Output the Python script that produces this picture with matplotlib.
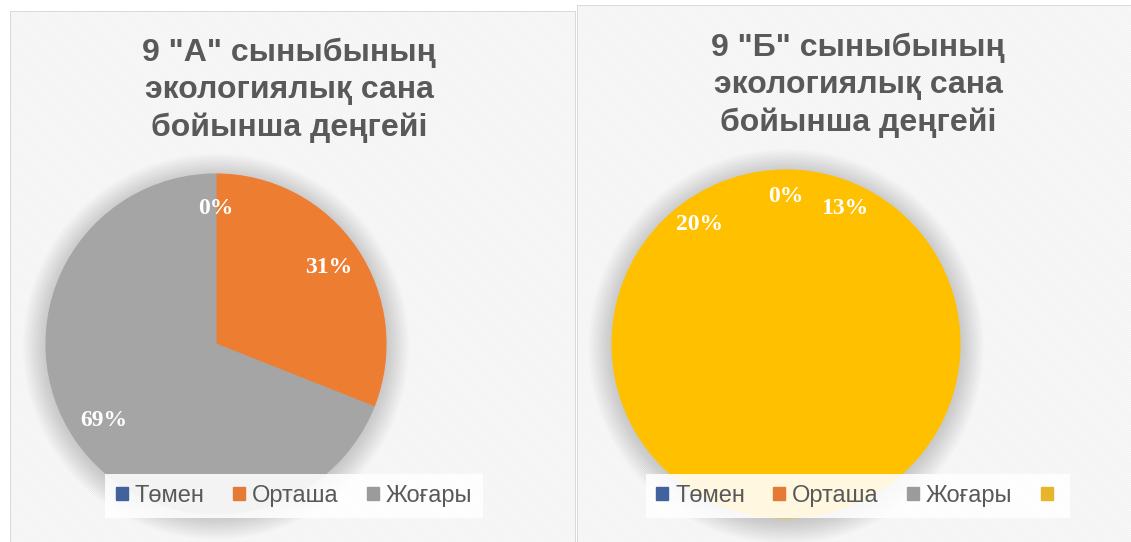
import matplotlib
matplotlib.use("Agg")
import matplotlib.pyplot as plt
from matplotlib.patches import Rectangle, Circle, Patch

# данные
categories = ["Төмен", "Орташа", "Жоғары"]
a_values = [0, 31, 69]
a_labels = ["0%", "31%", "69%"]
b_values = [0, 13, 67, 20]
b_labels = ["0%", "13%", "", "20%"]
titles = ['9 "А" сыныбының\nэкологиялық сана\nбойынша деңгейі',
          '9 "Б" сыныбының\nэкологиялық сана\nбойынша деңгейі']

colors = ["#4472C4", "#ED7D31", "#A5A5A5"]
legend_colors = ["#41629c", "#e47a35", "#9b9b9b", "#e6b52a"]
yellow = "#FFC000"
text_gray = "#595959"

W, H = 1131, 542
plt.rcParams['hatch.linewidth'] = 0.6
plt.rcParams['hatch.color'] = '#f0f0f0'

fig = plt.figure(figsize=(W / 100, H / 100), dpi=100)
fig.patch.set_facecolor("white")


def px_rect(x0, y0, x1, y1):
    # пиксели картинки -> доли фигуры
    return [x0 / W, 1 - y1 / H, (x1 - x0) / W, (y1 - y0) / H]


# фоны двух диаграмм
for (x0, y0, x1, y1) in [(10, 11, 576, 560), (577, 5, 1140, 560)]:
    bg = fig.add_axes(px_rect(x0, y0, x1, y1), zorder=0)
    bg.set_axis_off()
    bg.add_patch(Rectangle((0, 0), 1, 1, transform=bg.transAxes,
                           facecolor="#fefefe", edgecolor="#f0f0f0",
                           hatch="\\" * 16, lw=0))
    bg.add_patch(Rectangle((0, 0), 1, 1, transform=bg.transAxes,
                           facecolor="none", edgecolor="#d4d4d4", lw=1.2))


def draw_pie(cx, cy, r, values, labels, wcolors, dist):
    ax = fig.add_axes(px_rect(cx - r, cy - r, cx + r, cy + r), zorder=1)
    # мягкая тень
    for k in range(16):
        ax.add_patch(Circle((0, -0.015), 1 + 0.009 * k, color="#7a7a7a",
                            alpha=0.022, lw=0, clip_on=False, zorder=0))
    wedges, texts = ax.pie(values, labels=labels, colors=wcolors,
                           startangle=90, counterclock=False,
                           labeldistance=dist,
                           wedgeprops=dict(linewidth=0.8))
    for w in wedges:
        w.set_zorder(2)
        w.set_edgecolor(w.get_facecolor())
    for t in texts:
        t.set_ha("center")
        t.set_va("center")
        t.set_color("white")
        t.set_fontsize(17)
        t.set_fontweight("bold")
        t.set_family("Liberation Serif")
        t.set_zorder(3)
    ax.set_xlim(-1, 1)
    ax.set_ylim(-1, 1)
    ax.set_aspect("equal")
    ax.set_axis_off()
    return ax


draw_pie(216, 344, 170, a_values, a_labels, colors, 0.8)
draw_pie(786, 344, 174, b_values, b_labels, [yellow] * 4, 0.85)

# заголовки
for x, y, t in [(289, 38, titles[0]), (858, 33, titles[1])]:
    fig.text(x / W, 1 - y / H, t, ha="center", va="top", fontsize=23,
             fontweight="bold", color=text_gray, family="Liberation Sans",
             linespacing=1.3)

# легенды
leg_a = [Patch(color=c) for c in legend_colors[:3]]
leg_b = [Patch(color=c) for c in legend_colors]
for x, handles, labels in [(294, leg_a, categories),
                           (858, leg_b, categories + [""])]:
    lg = fig.legend(handles, labels, loc="center",
                    bbox_to_anchor=(x / W, 1 - 496 / H), ncol=len(handles),
                    frameon=True, fancybox=False,
                    handlelength=0.5, handleheight=0.5, handletextpad=0.3,
                    columnspacing=1.2, borderpad=0.45,
                    prop=dict(family="Liberation Sans", size=17))
    lg.get_frame().set_facecolor("white")
    lg.get_frame().set_alpha(0.88)
    lg.get_frame().set_linewidth(0)
    for t in lg.get_texts():
        t.set_color(text_gray)

fig.savefig("out.png", dpi=100)
